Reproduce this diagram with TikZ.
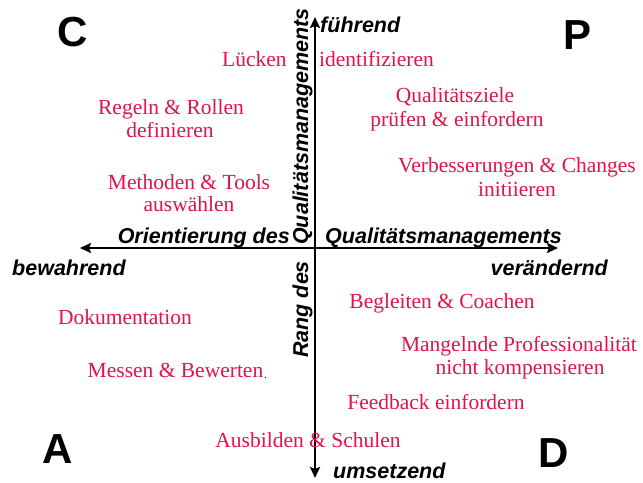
\documentclass[tikz,border=0pt]{standalone}
\usepackage{fontspec}
\setmainfont{Liberation Serif}
\newfontfamily\axfont{Liberation Sans}
\usetikzlibrary{arrows.meta}
\definecolor{qred}{RGB}{225,20,72}
\begin{document}
\begin{tikzpicture}[x=1bp,y=-1bp,
  item/.style={text=qred, font=\fontsize{21.5bp}{24bp}\selectfont, inner sep=0pt, anchor=base},
  axlabel/.style={font=\axfont\bfseries\itshape\fontsize{21.5bp}{24bp}\selectfont, inner sep=0pt},
  corner/.style={font=\axfont\bfseries\fontsize{42bp}{48bp}\selectfont, inner sep=0pt, anchor=base},
  axisline/.style={line width=2.6bp, arrows={Stealth[length=11bp,width=10bp,inset=2bp]-Stealth[length=11bp,width=10bp,inset=2bp]}}]
\useasboundingbox (0,0) rectangle (643,483);
\fill[white] (0,0) rectangle (643,483);
% axes
\coordinate (top) at (315,17);
\coordinate (bot) at (315,478);
\coordinate (left) at (80,248);
\coordinate (right) at (558,248);
\draw[axisline] (bot) -- (top);
\draw[axisline] (left) -- (right);
% corner letters
\node[corner] (C) at (73,47) {C};
\node[corner] (P) at (577,50) {P};
\node[corner] (A) at (57.5,463) {A};
\node[corner] (D) at (553.5,467) {D};
% axis labels
\node[axlabel, anchor=base west] (fuehrend) at (320,33) {führend};
\node[axlabel, anchor=base west] (umsetzend) at (333,478) {umsetzend};
\node[axlabel, anchor=base west] (bewahrend) at (12,275) {bewahrend};
\node[axlabel, anchor=base east] (veraendernd) at (608,275) {verändernd};
\node[axlabel, anchor=base east] (orient) at (290,244) {Orientierung des};
\node[axlabel, anchor=base west] (qmh) at (325,244) {Qualitätsmanagements};
\node[axlabel, anchor=base west, rotate=90] (qmv) at (308,245) {Qualitätsmanagements};
\node[axlabel, anchor=base west, rotate=90] (rang) at (308,358) {Rang des};
% items
\node[item, anchor=base west] (luecken) at (222,67) {Lücken};
\node[item, anchor=base west] (ident) at (319,67) {identifizieren};
\node[item] (regeln1) at (171,115) {Regeln \& Rollen};
\node[item] (regeln2) at (170,138) {definieren};
\node[item] (meth1) at (189,190) {Methoden \& Tools};
\node[item] (meth2) at (189,212) {auswählen};
\node[item] (qz1) at (455,103) {Qualitätsziele};
\node[item] (qz2) at (457,127) {prüfen \& einfordern};
\node[item] (verb1) at (517,173) {Verbesserungen \& Changes};
\node[item] (verb2) at (517,197) {initiieren};
\node[item] (doku) at (125,324) {Dokumentation};
\node[item] (begl) at (442,308) {Begleiten \& Coachen};
\node[item] (mang1) at (519,351) {Mangelnde Professionalität};
\node[item] (mang2) at (520,374) {nicht kompensieren};
\node[item] (messen) at (175.5,377) {Messen \& Bewerten};
\node[inner sep=0pt, anchor=base west, font=\fontsize{12bp}{14bp}\selectfont] (dot) at (264,378) {.};
\node[item] (feedback) at (436,409) {Feedback einfordern};
\node[item] (ausb) at (308,447) {Ausbilden \& Schulen};
\end{tikzpicture}
\end{document}
